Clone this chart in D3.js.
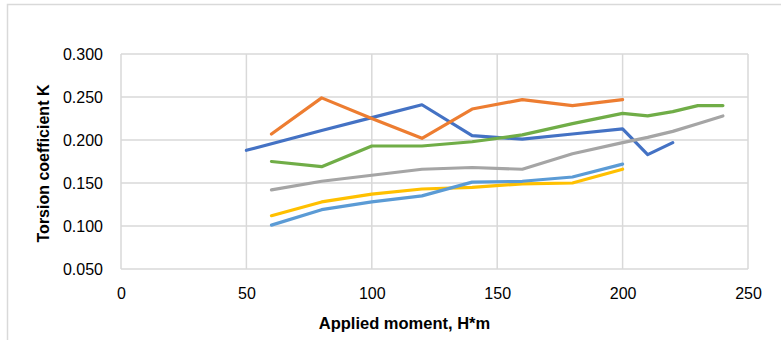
<!DOCTYPE html>
<html>
<head>
<meta charset="utf-8">
<script src="https://cdn.jsdelivr.net/npm/d3@7"></script>
<style>
  html, body { margin: 0; padding: 0; background: #fff; }
  svg { display: block; }
  text { font-family: "Liberation Sans", Arial, sans-serif; fill: #000; }
</style>
</head>
<body>
<svg id="chart" width="781" height="340"></svg>
<script>
// ---- data ----
const xTicks = [0, 50, 100, 150, 200, 250];
const yTicks = [0.05, 0.10, 0.15, 0.20, 0.25, 0.30];
const xTitle = "Applied moment, H*m";
const yTitle = "Torsion coefficient K";

const s1X = [50, 80, 100, 120, 140, 160, 180, 200, 210, 220];
const s1Y = [0.188, 0.211, 0.226, 0.241, 0.205, 0.201, 0.207, 0.213, 0.183, 0.197];

const s2X = [60, 80, 100, 120, 140, 160, 180, 200];
const s2Y = [0.207, 0.249, 0.225, 0.202, 0.236, 0.247, 0.240, 0.247];

const s3X = [60, 80, 100, 120, 140, 160, 180, 200, 210, 220, 230, 240];
const s3Y = [0.142, 0.152, 0.159, 0.166, 0.168, 0.166, 0.184, 0.197, 0.203, 0.210, 0.219, 0.228];

const s4X = [60, 80, 100, 120, 140, 160, 180, 200];
const s4Y = [0.112, 0.128, 0.137, 0.143, 0.145, 0.149, 0.150, 0.166];

const s5X = [60, 80, 100, 120, 140, 160, 180, 200];
const s5Y = [0.101, 0.119, 0.128, 0.135, 0.151, 0.152, 0.157, 0.172];

const s6X = [60, 80, 100, 120, 140, 160, 180, 200, 210, 220, 230, 240];
const s6Y = [0.175, 0.169, 0.193, 0.193, 0.198, 0.206, 0.219, 0.231, 0.228, 0.233, 0.240, 0.240];

const seriesColors = ["#4472C4", "#ED7D31", "#A5A5A5", "#FFC000", "#5B9BD5", "#70AD47"];

const series = [
  [s1X, s1Y], [s2X, s2Y], [s3X, s3Y], [s4X, s4Y], [s5X, s5Y], [s6X, s6Y]
].map(([xs, ys], i) => ({ color: seriesColors[i], pts: xs.map((x, j) => ({ x, y: ys[j] })) }));

// ---- layout ----
const svg = d3.select("#chart");
const plot = { left: 121, right: 748, top: 54, bottom: 269 };

const x = d3.scaleLinear().domain([0, 250]).range([plot.left, plot.right]);
const y = d3.scaleLinear().domain([0.05, 0.30]).range([plot.bottom, plot.top]);

// outer chart frame (only top & left visible)
svg.append("path")
  .attr("d", "M7.5,340 L7.5,4.5 L781,4.5")
  .attr("fill", "none").attr("stroke", "#d9d9d9").attr("stroke-width", 1.5);

// gridlines
const grid = svg.append("g");
grid.selectAll("line.h").data(yTicks).join("line")
  .attr("x1", plot.left).attr("x2", plot.right)
  .attr("y1", d => y(d)).attr("y2", d => y(d))
  .attr("stroke", "#d9d9d9").attr("stroke-width", 1.5);
grid.selectAll("line.v").data(xTicks).join("line")
  .attr("y1", plot.top).attr("y2", plot.bottom)
  .attr("x1", d => x(d)).attr("x2", d => x(d))
  .attr("stroke", "#d9d9d9").attr("stroke-width", 1.5);

// axes (labels only)
const xAxis = d3.axisBottom(x).tickValues(xTicks).tickFormat(d3.format("d")).tickSize(0).tickPadding(19);
const gx = svg.append("g").attr("transform", `translate(0,${plot.bottom})`).call(xAxis);
gx.select(".domain").remove();
gx.selectAll("text").attr("font-size", 16).attr("font-family", "Liberation Sans, Arial, sans-serif").attr("fill", "#000");

const yAxis = d3.axisLeft(y).tickValues(yTicks).tickFormat(d3.format(".3f")).tickSize(0).tickPadding(18);
const gy = svg.append("g").attr("transform", `translate(${plot.left},0)`).call(yAxis);
gy.select(".domain").remove();
gy.selectAll("text").attr("font-size", 16).attr("font-family", "Liberation Sans, Arial, sans-serif").attr("fill", "#000");

// lines
const line = d3.line().x(d => x(d.x)).y(d => y(d.y));
svg.append("g").selectAll("path").data(series).join("path")
  .attr("d", d => line(d.pts))
  .attr("fill", "none")
  .attr("stroke", d => d.color)
  .attr("stroke-width", 3.2)
  .attr("stroke-linejoin", "round")
  .attr("stroke-linecap", "round");

// axis titles
svg.append("text")
  .attr("x", 404.5).attr("y", 329)
  .attr("text-anchor", "middle")
  .attr("font-size", 16.5).attr("font-weight", "bold")
  .text(xTitle);

svg.append("text")
  .attr("transform", `translate(49,${163.5}) rotate(-90)`)
  .attr("text-anchor", "middle")
  .attr("font-size", 16).attr("font-weight", "bold")
  .text(yTitle);
</script>
</body>
</html>
